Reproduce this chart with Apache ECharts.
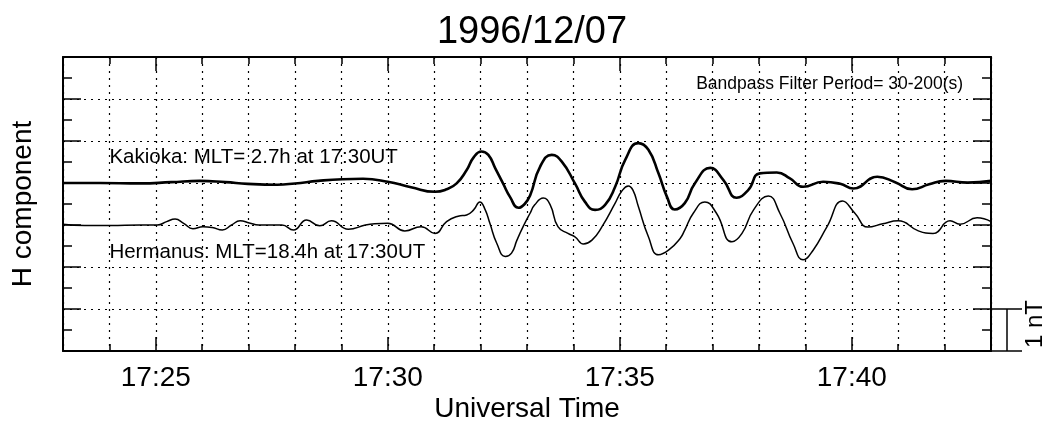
<!DOCTYPE html>
<html>
<head>
<meta charset="utf-8" />
<title>1996/12/07 H component</title>
<script type="text/javascript" src="https://cdn.jsdelivr.net/npm/echarts@6/dist/echarts.min.js"></script>
<style>
    html, body { margin: 0; padding: 0; background: #fff; }
    #main { width: 1045px; height: 421px; }
</style>
</head>
<body>
<div id="main"></div>
<script type="text/javascript">
    // time in seconds after 17:23:00 UT, value = deviation from trace baseline (nT)
    var kakTime = [0, 48, 100, 140, 177, 210, 239, 277, 300, 330, 361, 388, 420, 450, 481, 496, 509, 522, 531, 541, 550, 559, 569, 578, 589, 597, 604, 617, 632, 645, 662, 675, 688, 701, 714, 727, 744, 757, 770, 781, 791, 804, 817, 837, 854, 871, 886, 901, 923, 940, 957, 983, 1005, 1022, 1053, 1076, 1098, 1120, 1141, 1170, 1200];
    var kakDev  = [0, 0, -0.01, 0.02, 0.05, 0.02, -0.02, -0.04, -0.01, 0.05, 0.09, 0.1, 0.03, -0.1, -0.21, -0.15, -0.01, 0.31, 0.61, 0.75, 0.67, 0.35, -0.01, -0.33, -0.59, -0.5, -0.3, 0.39, 0.67, 0.51, -0.01, -0.45, -0.64, -0.52, -0.09, 0.55, 0.95, 0.79, 0.23, -0.33, -0.63, -0.48, -0.01, 0.36, 0.07, -0.35, -0.17, 0.23, 0.25, 0.11, -0.09, 0.03, -0.02, -0.13, 0.15, 0.02, -0.15, -0.03, 0.05, 0.01, 0.05];

    var herTime = [0, 28, 61, 100, 122, 134, 145, 156, 168, 181, 193, 206, 218, 229, 241, 253, 283, 298, 315, 332, 347, 369, 391, 403, 420, 442, 463, 481, 496, 511, 522, 531, 539, 546, 552, 561, 572, 580, 587, 595, 604, 610, 621, 630, 640, 653, 662, 673, 684, 697, 714, 722, 731, 737, 744, 757, 770, 783, 798, 804, 815, 830, 845, 865, 878, 893, 912, 927, 944, 957, 970, 988, 1008, 1024, 1041, 1060, 1080, 1106, 1125, 1147, 1160, 1182, 1200];
    var herDev  = [0.02, -0.01, -0.01, 0, 0, 0.08, 0.14, 0.04, -0.09, -0.04, -0.06, -0.12, 0, 0.1, 0.05, 0, 0, -0.12, 0.12, -0.02, 0.1, -0.1, 0, 0.03, 0.04, -0.14, -0.04, -0.2, 0.08, 0.21, 0.24, 0.36, 0.55, 0.36, 0.04, -0.44, -0.75, -0.67, -0.36, -0.04, 0.28, 0.48, 0.64, 0.48, -0.04, -0.2, -0.28, -0.45, -0.36, -0.04, 0.52, 0.79, 0.93, 0.83, 0.44, -0.28, -0.71, -0.6, -0.32, -0.12, 0.28, 0.55, 0.28, -0.4, -0.2, 0.36, 0.69, 0.28, -0.44, -0.83, -0.6, -0.04, 0.57, 0.28, -0.05, 0.03, 0.1, -0.14, -0.2, 0.1, 0.02, 0.17, 0.08];

    var kakBase = 4;   // nT position of the Kakioka trace
    var herBase = 3;   // nT position of the Hermanus trace
    var startMin = 23; // 17:23
    var endMin = 43;   // 17:43
    var majorMinutes = [25, 30, 35, 40];

    function toPoints(times, devs, base) {
        var out = [];
        for (var i = 0; i < times.length; i++) {
            out.push([startMin + times[i] / 60, base + devs[i]]);
        }
        return out;
    }

    var fontName = 'Liberation Sans';
    var dots = { color: '#000', width: 1.2, type: [2, 5] };

    var myChart = echarts.init(document.getElementById('main'));
    myChart.setOption({
        animation: false,
        backgroundColor: '#fff',
        title: {
            text: '1996/12/07',
            left: 527,
            top: 9,
            textAlign: 'center',
            textStyle: { fontFamily: fontName, fontSize: 38, fontWeight: 'normal', color: '#000' }
        },
        grid: { left: 63, right: 54, top: 57, bottom: 70, outerBoundsMode: 'none', containLabel: false },
        xAxis: [
            {
                type: 'value', position: 'bottom', min: startMin, max: endMin, interval: 1,
                axisLine: { show: true, onZero: false, lineStyle: { color: '#000', width: 2 } },
                axisTick: { show: true, inside: true, length: 7, lineStyle: { color: '#000', width: 1.5 } },
                axisLabel: { show: false },
                splitLine: { show: true, lineStyle: dots },
                name: 'Universal Time', nameLocation: 'middle', nameGap: 44,
                nameTextStyle: { fontFamily: fontName, fontSize: 28, color: '#000' }
            },
            {
                type: 'value', position: 'bottom', min: startMin, max: endMin,
                axisLine: { show: false, onZero: false },
                axisTick: { show: true, inside: true, length: 14, customValues: majorMinutes, lineStyle: { color: '#000', width: 1.5 } },
                axisLabel: {
                    show: true, margin: 13, customValues: majorMinutes,
                    fontFamily: fontName, fontSize: 28, color: '#000',
                    formatter: function (v) { return '17:' + (v < 10 ? '0' : '') + Math.round(v); }
                },
                splitLine: { show: false }
            },
            {
                type: 'value', position: 'top', min: startMin, max: endMin, interval: 1,
                axisLine: { show: true, onZero: false, lineStyle: { color: '#000', width: 2 } },
                axisTick: { show: true, inside: true, length: 7, lineStyle: { color: '#000', width: 1.5 } },
                axisLabel: { show: false },
                splitLine: { show: false }
            },
            {
                type: 'value', position: 'top', min: startMin, max: endMin,
                axisLine: { show: false, onZero: false },
                axisTick: { show: true, inside: true, length: 14, customValues: majorMinutes, lineStyle: { color: '#000', width: 1.5 } },
                axisLabel: { show: false },
                splitLine: { show: false }
            }
        ],
        yAxis: [
            {
                type: 'value', position: 'left', min: 0, max: 7, interval: 1,
                axisLine: { show: true, onZero: false, lineStyle: { color: '#000', width: 2 } },
                axisTick: { show: true, inside: true, length: 18, lineStyle: { color: '#000', width: 1.5 } },
                minorTick: { show: true, splitNumber: 2, length: 9, lineStyle: { color: '#000', width: 1.5 } },
                axisLabel: { show: false },
                splitLine: { show: true, lineStyle: dots },
                name: 'H component', nameLocation: 'middle', nameGap: 26, nameRotate: 90,
                nameTextStyle: { fontFamily: fontName, fontSize: 28, color: '#000' }
            },
            {
                type: 'value', position: 'right', min: 0, max: 7, interval: 1,
                axisLine: { show: true, onZero: false, lineStyle: { color: '#000', width: 2 } },
                axisTick: { show: true, inside: true, length: 18, lineStyle: { color: '#000', width: 1.5 } },
                minorTick: { show: true, splitNumber: 2, length: 9, lineStyle: { color: '#000', width: 1.5 } },
                axisLabel: { show: false },
                splitLine: { show: false }
            }
        ],
        series: [
            {
                name: 'Kakioka', type: 'line', xAxisIndex: 0, yAxisIndex: 0,
                data: toPoints(kakTime, kakDev, kakBase),
                smooth: 0.5, showSymbol: false,
                lineStyle: { color: '#000', width: 2.6 }
            },
            {
                name: 'Hermanus', type: 'line', xAxisIndex: 0, yAxisIndex: 0,
                data: toPoints(herTime, herDev, herBase),
                smooth: 0.5, showSymbol: false,
                lineStyle: { color: '#000', width: 1.5 }
            }
        ]
    });

    // annotations and the 1 nT scale bar, placed through the axes
    var px = function (x, y) { return myChart.convertToPixel({ xAxisIndex: 0, yAxisIndex: 0 }, [x, y]); };
    var pKak = px(24, 4.6);
    var pHer = px(24, 2.36);
    var pBand = px(42.4, 6.35);
    var b0 = px(endMin, 0);
    var b1 = px(endMin, 1);
    var barX = b0[0] + 16;
    var barEnd = b0[0] + 31;
    var lineStyle = { stroke: '#000', lineWidth: 1.5 };

    myChart.setOption({
        graphic: [
            { type: 'text', x: pKak[0], y: pKak[1], style: { text: 'Kakioka: MLT= 2.7h at 17:30UT', font: '20.5px ' + fontName, fill: '#000', verticalAlign: 'middle' } },
            { type: 'text', x: pHer[0], y: pHer[1], style: { text: 'Hermanus: MLT=18.4h at 17:30UT', font: '20.5px ' + fontName, fill: '#000', verticalAlign: 'middle' } },
            { type: 'text', x: pBand[0], y: pBand[1], style: { text: 'Bandpass Filter Period= 30-200(s)', font: '17.5px ' + fontName, fill: '#000', align: 'right', verticalAlign: 'middle' } },
            { type: 'line', shape: { x1: b1[0], y1: b1[1], x2: barEnd, y2: b1[1] }, style: lineStyle },
            { type: 'line', shape: { x1: b0[0], y1: b0[1], x2: barEnd, y2: b0[1] }, style: lineStyle },
            { type: 'line', shape: { x1: barX, y1: b1[1], x2: barX, y2: b0[1] }, style: lineStyle },
            { type: 'text', x: barEnd + 13, y: (b0[1] + b1[1]) / 2 - 6, rotation: Math.PI / 2, style: { text: '1 nT', font: '24px ' + fontName, fill: '#000', align: 'center', verticalAlign: 'middle' } }
        ]
    });
</script>
</body>
</html>
